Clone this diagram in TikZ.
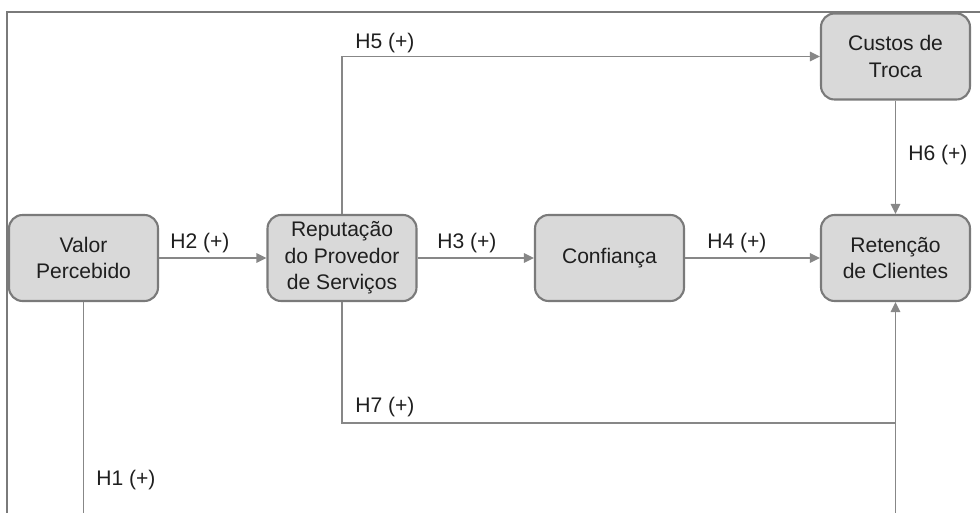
\documentclass[tikz,border=0pt]{standalone}
\usepackage{fontspec}
\setmainfont{Liberation Sans}
\usepackage{xcolor}
\usepackage{tikz}
\usetikzlibrary{arrows.meta}
\definecolor{boxfill}{HTML}{D9D9D9}
\definecolor{boxline}{HTML}{7A7A7A}
\definecolor{wire}{HTML}{878787}
\definecolor{ink}{HTML}{1F1F1F}
\tikzset{
  frame/.style={draw=boxline, line width=1.1pt},
  conn/.style={draw=wire, line width=0.85pt},
  arr/.style={conn, -{Triangle[length=0.2cm, width=0.19cm]}},
  construct/.style={draw=boxline, fill=boxfill, line width=1.2pt, rounded corners=0.27cm,
    minimum width=2.98cm, minimum height=1.72cm, align=center, text=ink,
    font=\fontsize{12}{15}\selectfont, inner sep=0pt},
  hyp/.style={text=ink, font=\fontsize{12}{15}\selectfont, anchor=west, inner sep=0pt}
}

\begin{document}
\begin{tikzpicture}[x=0.02cm, y=-0.02cm]
  \useasboundingbox (0,0) rectangle (980,513);
  \draw[frame] (7,513) -- (7,12) -- (980,12);

  \node[construct] (valor)  at (83.5,258)  {Valor\\Percebido};
  \node[construct] (rep)    at (342,258)   {Reputação\\do Provedor\\de Serviços};
  \node[construct] (conf)   at (609.5,258) {Confiança};
  \node[construct] (ret)    at (895.5,258) {Retenção\\de Clientes};
  \node[construct] (custos) at (895.5,56.5) {Custos de\\Troca};

  \coordinate (joint) at (895.5,423);
  \coordinate (h1end) at (83.5,513);
  \coordinate (retin) at (895.5,513);

  \draw[arr] (valor) -- (rep);
  \draw[arr] (rep) -- (conf);
  \draw[arr] (conf) -- (ret);
  \draw[arr] (rep.north) |- (custos.west);
  \draw[arr] (custos) -- (ret);
  \draw[conn] (rep.south) |- (joint);
  \draw[arr] (retin) -- (ret.south);
  \draw[conn] (valor.south) -- (h1end);

  \node[hyp] (h1) at (96,480) {H1 (+)};
  \node[hyp] (h2) at (170,243) {H2 (+)};
  \node[hyp] (h3) at (437,243) {H3 (+)};
  \node[hyp] (h4) at (707,243) {H4 (+)};
  \node[hyp] (h5) at (355,43)  {H5 (+)};
  \node[hyp] (h6) at (908,155) {H6 (+)};
  \node[hyp] (h7) at (355,407) {H7 (+)};
\end{tikzpicture}
\end{document}
